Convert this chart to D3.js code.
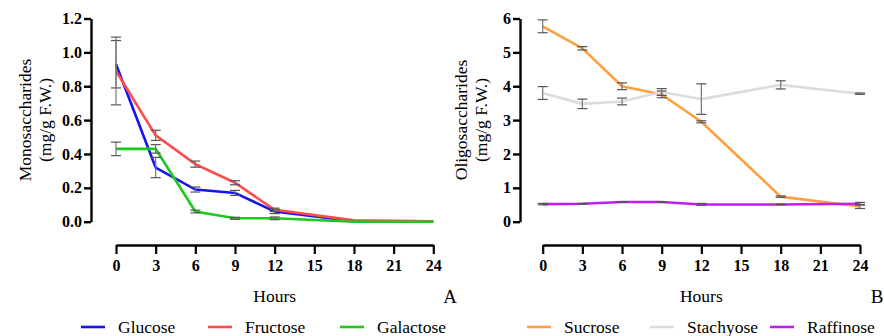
<!DOCTYPE html>
<html>
<head>
<meta charset="utf-8">
<script src="https://cdn.jsdelivr.net/npm/d3@7"></script>
<style>
  body { margin: 0; background: #fff; }
</style>
</head>
<body>
<svg id="chart" width="884" height="336"></svg>
<script>
// Sampling times (hours)
const hours = [0, 3, 6, 9, 12, 18, 24];
const xTicks = [0, 3, 6, 9, 12, 15, 18, 21, 24];

// Panel A - monosaccharides (mg/g F.W.)
const glucose    = [0.93, 0.32, 0.19, 0.17, 0.06, 0.003, 0.0];
const glucoseErr = [0.14, 0.06, 0.015, 0.015, 0.012, 0, 0];
const fructose    = [0.89, 0.51, 0.34, 0.23, 0.07, 0.008, 0.002];
const fructoseErr = [0.20, 0.03, 0.018, 0.012, 0.01, 0, 0];
const galactose    = [0.43, 0.43, 0.06, 0.02, 0.02, 0.0, 0.0];
const galactoseErr = [0.04, 0.025, 0.008, 0.006, 0.008, 0, 0];
const yTicksA = [0.0, 0.2, 0.4, 0.6, 0.8, 1.0, 1.2];

// Panel B - oligosaccharides (mg/g F.W.)
const sucrose    = [5.77, 5.12, 4.0, 3.76, 2.95, 0.74, 0.45];
const sucroseErr = [0.19, 0.05, 0.1, 0.1, 0.03, 0.02, 0.06];
const stachyose    = [3.8, 3.48, 3.55, 3.83, 3.62, 4.04, 3.78];
const stachyoseErr = [0.19, 0.14, 0.1, 0.1, 0.45, 0.12, 0.02];
const raffinose    = [0.52, 0.53, 0.58, 0.58, 0.51, 0.51, 0.53];
const raffinoseErr = [0.02, 0.01, 0.01, 0.01, 0.03, 0.01, 0.04];
const yTicksB = [0, 1, 2, 3, 4, 5, 6];

const FONT = "Liberation Serif";
const svg = d3.select("#chart");

function drawPanel(cfg) {
    const x = d3.scaleLinear().domain([0, 24]).range([cfg.x0, cfg.x1]);
    const y = d3.scaleLinear().domain([0, cfg.yMax]).range([221.7, 18.5]);

    // y axis
    const yAxis = svg.append("g")
        .attr("transform", `translate(${cfg.yAxisX},0)`)
        .call(d3.axisLeft(y).tickValues(cfg.yTicks).tickFormat(cfg.fmt).tickSize(7).tickSizeOuter(0))
        .attr("font-family", FONT);
    yAxis.select(".domain").attr("stroke-width", 2.4);
    yAxis.selectAll(".tick line").attr("stroke-width", 2.4);
    yAxis.selectAll("text")
        .attr("font-family", FONT)
        .attr("font-size", 16).attr("font-weight", "bold").attr("x", -9);

    // x axis (separate, below)
    const xAxis = svg.append("g")
        .attr("transform", "translate(0,245)")
        .call(d3.axisBottom(x).tickValues(xTicks).tickSize(9).tickSizeOuter(0))
        .attr("font-family", FONT);
    xAxis.select(".domain").attr("stroke-width", 2.4);
    xAxis.selectAll(".tick line").attr("stroke-width", 2.2);
    xAxis.selectAll("text")
        .attr("font-family", FONT)
        .attr("font-size", 16).attr("font-weight", "bold").attr("y", 15);

    // series lines
    const line = d3.line().x((d, i) => x(hours[i])).y(d => y(d));
    cfg.series.forEach(s => {
        svg.append("path")
            .datum(s.values)
            .attr("fill", "none")
            .attr("stroke", s.color)
            .attr("stroke-width", 2.6)
            .attr("d", line);
    });

    // error bars
    cfg.series.forEach(s => {
        s.values.forEach((v, i) => {
            const e = s.err[i];
            if (!e) return;
            const cx = x(hours[i]);
            const g = svg.append("g").attr("stroke", "#555").attr("stroke-width", 1.2);
            g.append("line").attr("x1", cx).attr("x2", cx)
                .attr("y1", y(v + e)).attr("y2", y(v - e)).attr("stroke", "#777");
            [v + e, v - e].forEach(c => {
                g.append("line").attr("x1", cx - 5).attr("x2", cx + 5)
                    .attr("y1", y(c)).attr("y2", y(c));
            });
        });
    });

    // y label
    svg.append("text")
        .attr("transform", `translate(${cfg.labelX},120) rotate(-90)`)
        .attr("text-anchor", "middle")
        .attr("font-family", FONT)
        .attr("font-size", 17.5)
        .selectAll("tspan")
        .data([cfg.yLabel, "(mg/g F.W.)"])
        .join("tspan")
        .attr("x", 0)
        .attr("dy", (d, i) => i === 0 ? 0 : 20)
        .text(d => d);

    // x label + panel letter
    svg.append("text")
        .attr("x", (cfg.x0 + cfg.x1) / 2).attr("y", 302)
        .attr("text-anchor", "middle").attr("font-size", 17.5)
        .attr("font-family", FONT)
        .text("Hours");
    svg.append("text")
        .attr("x", cfg.letterX).attr("y", 303)
        .attr("text-anchor", "middle").attr("font-size", 19)
        .attr("font-family", FONT)
        .text(cfg.letter);

    // legend
    cfg.series.forEach((s, i) => {
        const lx = cfg.legendX[i];
        svg.append("line")
            .attr("x1", lx).attr("x2", lx + 24)
            .attr("y1", 327).attr("y2", 327)
            .attr("stroke", s.color).attr("stroke-width", 2.6);
        svg.append("text")
            .attr("x", lx + 37).attr("y", 332.5)
            .attr("font-size", 17.5)
            .attr("font-family", FONT)
            .text(s.name);
    });
}

drawPanel({
    x0: 116, x1: 433.3, yAxisX: 91, yMax: 1.2, yTicks: yTicksA,
    fmt: d3.format(".1f"), labelX: 31, yLabel: "Monosaccharides",
    letter: "A", letterX: 450, legendX: [81, 208, 340],
    series: [
        { name: "Glucose", values: glucose, err: glucoseErr, color: "#1414f0" },
        { name: "Fructose", values: fructose, err: fructoseErr, color: "#ff4b4b" },
        { name: "Galactose", values: galactose, err: galactoseErr, color: "#1ec81e" }
    ]
});

drawPanel({
    x0: 542.7, x1: 860, yAxisX: 520, yMax: 6, yTicks: yTicksB,
    fmt: d3.format("d"), labelX: 467, yLabel: "Oligosaccharides",
    letter: "B", letterX: 877, legendX: [527, 650, 770],
    series: [
        { name: "Sucrose", values: sucrose, err: sucroseErr, color: "#ffa040" },
        { name: "Stachyose", values: stachyose, err: stachyoseErr, color: "#dcdcdc" },
        { name: "Raffinose", values: raffinose, err: raffinoseErr, color: "#c01ef0" }
    ]
});
</script>
</body>
</html>
